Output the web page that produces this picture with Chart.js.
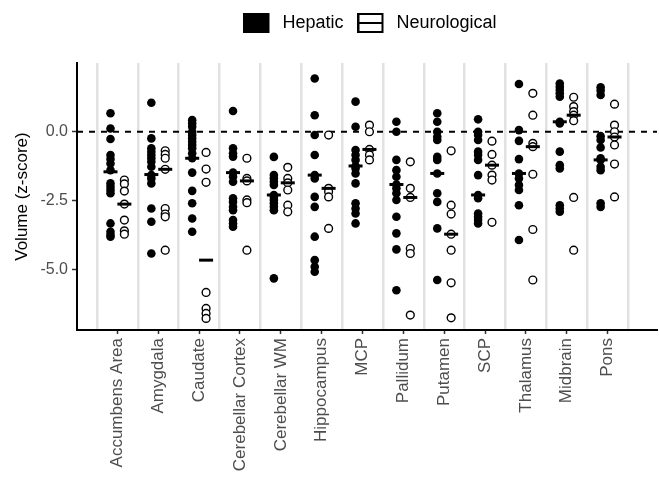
<!DOCTYPE html>
<html>
<head>
<meta charset="utf-8">
<script src="https://cdn.jsdelivr.net/npm/chart.js@4/dist/chart.umd.min.js"></script>
<style>
  body { margin: 0; background: #fff; }
</style>
</head>
<body>
<canvas id="chart" width="659" height="480"></canvas>
<script>
const categories = ['Accumbens Area', 'Amygdala', 'Caudate', 'Cerebellar Cortex', 'Cerebellar WM',
  'Hippocampus', 'MCP', 'Pallidum', 'Putamen', 'SCP', 'Thalamus', 'Midbrain', 'Pons'];

// z-scores per region
const hepatic = [
  [0.67, 0.12, -0.26, -0.84, -0.99, -1.15, -1.39, -1.87, -1.99, -2.11, -2.23, -3.32, -3.62, -3.74, -3.80],
  [1.05, -0.24, -0.60, -0.72, -0.84, -0.96, -1.09, -1.27, -1.57, -1.69, -1.87, -2.78, -3.26, -4.41],
  [0.42, 0.30, 0.18, 0.0, -0.12, -0.24, -0.36, -0.48, -0.60, -0.78, -0.96, -1.48, -2.14, -2.59, -3.14, -3.62],
  [0.75, -0.60, -0.78, -0.90, -1.48, -1.63, -1.81, -2.41, -2.54, -2.72, -2.84, -3.20, -3.32, -3.44],
  [-0.91, -1.57, -1.69, -1.81, -1.93, -2.29, -2.36, -2.47, -2.59, -2.72, -2.84, -5.31],
  [1.93, 0.60, -0.12, -0.84, -1.57, -1.69, -2.36, -2.72, -3.80, -4.65, -4.89, -5.07],
  [1.09, 0.18, -0.66, -0.84, -1.02, -1.24, -1.33, -1.51, -1.87, -2.59, -2.78, -2.96, -3.32],
  [0.36, 0.0, -1.02, -1.39, -1.63, -1.91, -2.05, -2.23, -2.47, -3.08, -3.68, -4.26, -5.74],
  [0.67, 0.36, 0.0, -0.18, -0.30, -0.91, -1.02, -1.51, -2.23, -2.54, -3.50, -5.37],
  [0.45, 0.0, -0.12, -0.30, -0.72, -0.84, -1.02, -1.57, -2.29, -2.41, -2.96, -3.08, -3.20, -3.32],
  [1.73, 0.06, -0.33, -0.99, -1.51, -1.69, -1.93, -2.11, -2.66, -3.92],
  [1.75, 1.63, 1.51, 1.39, 1.27, 0.36, 0.30, -0.72, -1.21, -1.33, -2.66, -2.78, -2.90],
  [1.61, 1.49, 1.33, -0.16, -0.30, -0.57, -0.96, -1.02, -1.27, -1.39, -2.59, -2.72]
];
const neurological = [
  [-1.75, -1.89, -2.15, -2.62, -3.20, -3.59, -3.71],
  [-0.69, -0.82, -0.96, -1.36, -2.78, -2.98, -3.08, -4.29],
  [-0.75, -1.35, -1.83, -5.82, -6.40, -6.58, -6.76],
  [-0.96, -1.69, -1.78, -2.47, -2.57, -4.29],
  [-1.29, -1.69, -1.85, -2.11, -2.66, -2.90],
  [-0.12, -2.05, -2.17, -2.36, -3.50],
  [0.24, 0.0, -0.64, -0.84, -1.02],
  [-1.09, -2.05, -2.38, -4.23, -4.41, -6.64],
  [-0.69, -2.66, -2.98, -3.71, -4.29, -5.47, -6.74],
  [-0.34, -0.82, -1.21, -1.57, -1.75, -3.28],
  [1.39, 0.60, -0.42, -0.54, -1.54, -3.54, -5.37],
  [1.25, 0.91, 0.73, 0.60, 0.40, -2.38, -4.29],
  [1.00, 0.24, 0.0, -0.19, -0.48, -1.17, -2.36]
];
const hepaticMedian = [-1.45, -1.55, -0.96, -1.48, -2.29, -1.57, -1.24, -1.91, -1.51, -2.29, -1.51, 0.36, -1.02];
const neuroMedian = [-2.62, -1.36, -4.65, -1.78, -1.85, -2.05, -0.64, -2.38, -3.71, -1.21, -0.54, 0.60, -0.19];
const yTicks = [-5, -2.5, 0];

const xMin = -0.99, xMax = 13.21, yMin = -7.18, yMax = 2.49;
const dodge = 0.17;

Chart.defaults.font.family = '"Liberation Sans", Arial, sans-serif';

function strip(groups, off) {
  return groups.flatMap((vals, i) => vals.map(v => ({ x: i + off, y: v })));
}
function medians(vals, off) {
  return vals.map((v, i) => ({ x: i + off, y: v }));
}

// legend keys: filled box / open box with crossbar
function makeKey(filled) {
  const c = document.createElement('canvas');
  c.width = 30; c.height = 20;
  const g = c.getContext('2d');
  if (filled) {
    g.fillStyle = '#000';
    g.fillRect(0, 0, 26, 20);
  } else {
    g.fillStyle = '#fff';
    g.fillRect(1, 1, 24, 18);
    g.strokeStyle = '#000';
    g.lineWidth = 2;
    g.strokeRect(1, 1, 24, 18);
    g.beginPath(); g.moveTo(1, 10); g.lineTo(25, 10); g.stroke();
  }
  return c;
}
const keyHep = makeKey(true);
const keyNeu = makeKey(false);

// nudge legend a little right, ggplot centres it differently
const legendShift = {
  id: 'legendShift',
  afterLayout(chart) {
    chart.legend.left += 3;
    chart.legend.right += 3;
  }
};

new Chart(document.getElementById('chart'), {
  type: 'scatter',
  plugins: [legendShift],
  data: {
    datasets: [
      {
        label: 'Hepatic median',
        data: medians(hepaticMedian, -dodge),
        pointStyle: 'line', pointRadius: 7, borderColor: '#000', borderWidth: 3,
        order: 1
      },
      {
        label: 'Neurological median',
        data: medians(neuroMedian, dodge),
        pointStyle: 'line', pointRadius: 7, borderColor: '#000', borderWidth: 3,
        order: 1
      },
      {
        label: 'Hepatic',
        data: strip(hepatic, -dodge),
        pointRadius: 4.3, backgroundColor: '#000', borderWidth: 0,
        order: 2
      },
      {
        label: 'Neurological',
        data: strip(neurological, dodge),
        pointRadius: 3.9, backgroundColor: '#fff', borderColor: '#000', borderWidth: 1.4,
        order: 2
      },
      {
        label: 'zero',
        data: [{ x: xMin, y: 0 }, { x: xMax, y: 0 }],
        showLine: true, pointRadius: 0, borderColor: '#000', borderWidth: 2, borderDash: [6, 6],
        order: 3
      }
    ]
  },
  options: {
    responsive: false,
    animation: false,
    layout: { autoPadding: false, padding: { left: 0, right: 2, top: 0, bottom: 0 } },
    plugins: {
      tooltip: { enabled: false },
      legend: {
        position: 'top',
        fullSize: false,
        labels: {
          usePointStyle: true,
          pointStyleWidth: 30,
          boxHeight: 18,
          padding: 14,
          color: '#000',
          font: { size: 18 },
          generateLabels(chart) {
            const items = Chart.defaults.plugins.legend.labels.generateLabels(chart);
            return items
              .filter(it => it.text === 'Hepatic' || it.text === 'Neurological')
              .map(it => ({ ...it, pointStyle: it.text === 'Hepatic' ? keyHep : keyNeu }));
          }
        }
      }
    },
    scales: {
      x: {
        type: 'linear', position: 'bottom', min: xMin, max: xMax,
        afterBuildTicks: s => { s.ticks = categories.map((c, i) => ({ value: i })); },
        afterFit: s => { s.height = 150; },
        ticks: {
          autoSkip: false, minRotation: 90, maxRotation: 90, padding: 4,
          color: '#4d4d4d', font: { size: 17 },
          callback: v => categories[v]
        },
        grid: { drawOnChartArea: false, tickLength: 4, tickColor: '#333', tickWidth: 1.5 },
        border: { color: '#000', width: 2 }
      },
      x2: {
        type: 'linear', axis: 'x', position: 'top', min: xMin, max: xMax,
        afterBuildTicks: s => { s.ticks = categories.concat(['']).map((c, i) => ({ value: i - 0.5 })); },
        afterFit: s => { s.height = 21; },
        ticks: { display: false },
        grid: { color: '#e2e2e2', lineWidth: 2.5, drawTicks: false },
        border: { display: false }
      },
      y: {
        min: yMin, max: yMax,
        afterBuildTicks: s => { s.ticks = yTicks.map(v => ({ value: v })); },
        afterFit: s => { s.width = 77; },
        ticks: { color: '#4d4d4d', font: { size: 16 }, padding: 4, callback: v => v.toFixed(1) },
        grid: { drawOnChartArea: false, tickLength: 5, tickColor: '#333', tickWidth: 1.5 },
        border: { color: '#000', width: 2 },
        title: {
          display: true, text: 'Volume (z-score)', color: '#000',
          font: { size: 17 }, padding: { top: 12, bottom: 0 }
        }
      }
    }
  }
});
</script>
</body>
</html>
